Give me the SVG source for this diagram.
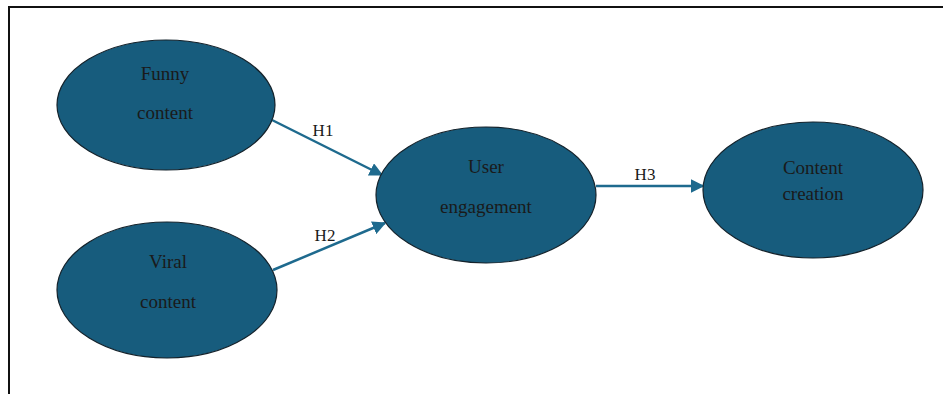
<svg xmlns="http://www.w3.org/2000/svg" width="943" height="394" viewBox="0 0 943 394">
<style>
.node ellipse{fill:#175c7d;stroke:#14222b;stroke-width:1.2}
.node text{font-family:"Liberation Serif","Times New Roman",serif;font-size:19px;fill:#1a1a1a;text-anchor:middle}
.lbl{font-family:"Liberation Serif","Times New Roman",serif;font-size:17px;fill:#1a1a1a;text-anchor:middle}
.edge{stroke:#1e6a8e;stroke-width:2.5;fill:none}
</style>
<defs>
<marker id="ah" viewBox="0 0 10 10" refX="9" refY="5" markerWidth="5.5" markerHeight="5.5" markerUnits="strokeWidth" orient="auto">
<path d="M0,0 L10,5 L0,10 z" fill="#1e6a8e"/>
</marker>
</defs>
<rect x="0" y="0" width="943" height="394" fill="#ffffff"/>
<g id="frame" fill="none" stroke="#111" stroke-width="2">
<polyline points="9,394 9,7 943,7"/>
</g>
<g id="connectors">
<line class="edge" x1="272" y1="120" x2="382" y2="175" marker-end="url(#ah)"/>
<line class="edge" x1="273" y1="270" x2="385" y2="223" marker-end="url(#ah)"/>
<line class="edge" x1="596" y1="186" x2="703" y2="186" marker-end="url(#ah)"/>
<text class="lbl" x="323" y="136">H1</text>
<text class="lbl" x="325" y="241">H2</text>
<text class="lbl" x="645" y="180">H3</text>
</g>
<g id="funny" class="node">
<ellipse cx="166" cy="105" rx="109" ry="65"/>
<text x="165" y="80">Funny</text>
<text x="165" y="119">content</text>
</g>
<g id="viral" class="node">
<ellipse cx="167" cy="290" rx="110" ry="68"/>
<text x="168" y="268">Viral</text>
<text x="168" y="308">content</text>
</g>
<g id="user" class="node">
<ellipse cx="486" cy="195" rx="110" ry="68"/>
<text x="486" y="173">User</text>
<text x="486" y="213">engagement</text>
</g>
<g id="creation" class="node">
<ellipse cx="813" cy="190" rx="110" ry="68"/>
<text x="813" y="174">Content</text>
<text x="813" y="200">creation</text>
</g>
</svg>
